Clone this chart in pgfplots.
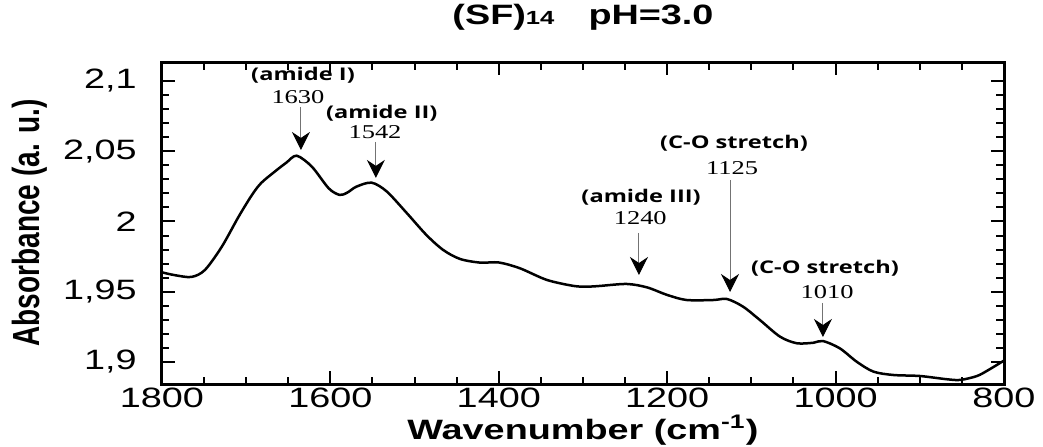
\documentclass[border=0pt]{standalone}
\usepackage{fontspec}
\setmainfont{Liberation Sans}
\newfontfamily\annfont{Open Sans}
\newfontfamily\numfont{Liberation Serif}
\usepackage{pgfplots}
\pgfplotsset{compat=1.18}
\usetikzlibrary{arrows.meta}
% the reference is stretched horizontally, so is its text
\newcommand{\sx}[1]{\scalebox{1.35}[1]{#1}}
\tikzset{
  lab/.style={inner sep=0pt, font=\fontsize{8.75}{10}\selectfont\annfont\bfseries},
  num/.style={inner sep=0pt, font=\fontsize{9.8}{11}\selectfont\numfont},
  pk/.style={black!55, line width=0.5pt, -{Stealth[length=9pt,width=9pt,inset=3pt,black]}},
}

\begin{document}
\begin{tikzpicture}
\begin{axis}[
  at={(0,0)}, anchor=south west,
  scale only axis, width=421pt, height=161pt,
  x dir=reverse, xmin=800, xmax=1800,
  ymin=1.8843, ymax=2.1135,
  xtick={800,1000,1200,1400,1600,1800},
  xticklabels={\sx{800},\sx{1000},\sx{1200},\sx{1400},\sx{1600},\sx{1800}},
  ytick={1.9,1.95,2,2.05,2.1},
  yticklabels={\sx{1,9},\sx{1,95},\sx{2},\sx{2,05},\sx{2,1}},
  minor x tick num=3, minor y tick num=4,
  tick align=inside,
  major tick length=6.5pt, minor tick length=3.75pt,
  every tick/.style={black, line width=1pt},
  axis line style={line width=1.5pt},
  ticklabel style={font=\fontsize{14}{16}\selectfont},
  xticklabel style={anchor=north, inner sep=0pt, yshift=-2pt},
  yticklabel style={anchor=east, inner sep=0pt, xshift=-12.5pt},
  xlabel={\sx{\bfseries Wavenumber (cm\textsuperscript{-1})}},
  xlabel style={at={(axis description cs:0.5,0)}, anchor=base, inner sep=0pt,
    yshift=-27.5pt, font=\fontsize{14}{16}\selectfont},
  ylabel={\scalebox{1}[1.35]{\bfseries Absorbance (a. u.)}},
  ylabel style={at={(axis description cs:-0.1568,0.5)}, anchor=center, inner sep=0pt,
    font=\fontsize{14}{16}\selectfont},
  title={\sx{\bfseries (SF){\fontsize{9.5}{10}\selectfont 14}\hspace{0.9em}pH=3.0}},
  title style={at={(axis description cs:0.5,1)}, anchor=base, inner sep=0pt,
    yshift=13pt, font=\fontsize{14}{16}\selectfont},
]
\addplot[black, line width=1.25pt, smooth] coordinates {
  (1800,1.9638) (1785,1.9618) (1765,1.9605) (1749,1.9655) (1729,1.9820)
  (1709,2.0034) (1693,2.0190) (1682,2.0275) (1665,2.0360) (1652,2.0420)
  (1640,2.0468) (1622,2.0390) (1602,2.0236) (1589,2.0189) (1580,2.0205)
  (1569,2.0248) (1551,2.0276) (1533,2.0213) (1509,2.0058) (1486,1.9904)
  (1466,1.9797) (1446,1.9733) (1422,1.9707) (1400,1.9708) (1375,1.9667)
  (1343,1.9584) (1311,1.9541) (1294,1.9536) (1280,1.9541) (1248,1.9555)
  (1224,1.9531) (1200,1.9477) (1177,1.9441) (1145,1.9441) (1129,1.9448)
  (1110,1.9394) (1090,1.9299) (1066,1.9180) (1046,1.9133) (1026,1.9137)
  (1015,1.9149) (995,1.9097) (975,1.9002) (955,1.8931) (931,1.8907)
  (900,1.8900) (868,1.8877) (852,1.8872) (832,1.8900) (817,1.8948)
  (800,1.9010)
};

% peak annotations
\node[lab] at (axis cs:1632.5,2.1043) {\sx{(amide I)}};
\node[num] at (axis cs:1638.5,2.0886) {\sx{1630}};
\draw[pk] (axis cs:1635,2.0815) -- (axis cs:1635,2.0509);

\node[lab] at (axis cs:1539,2.0772) {\sx{(amide II)}};
\node[num] at (axis cs:1547,2.0637) {\sx{1542}};
\draw[pk] (axis cs:1546,2.0566) -- (axis cs:1546,2.0310);

\node[lab] at (axis cs:1231,2.0174) {\sx{(amide III)}};
\node[num] at (axis cs:1232,2.0025) {\sx{1240}};
\draw[pk] (axis cs:1233.5,1.9918) -- (axis cs:1233.5,1.9619);

\node[lab] at (axis cs:1120.7,2.0559) {\sx{(C-O stretch)}};
\node[num] at (axis cs:1123,2.0380) {\sx{1125}};
\draw[pk] (axis cs:1125.4,2.0295) -- (axis cs:1125.4,1.9498);

\node[lab] at (axis cs:1012.6,1.9669) {\sx{(C-O stretch)}};
\node[num] at (axis cs:1010,1.9498) {\sx{1010}};
\draw[pk] (axis cs:1015,1.9420) -- (axis cs:1015,1.9178);
\end{axis}
\pgfresetboundingbox
\useasboundingbox (-81pt,-31pt) rectangle (440.5pt,192pt);
\end{tikzpicture}
\end{document}
